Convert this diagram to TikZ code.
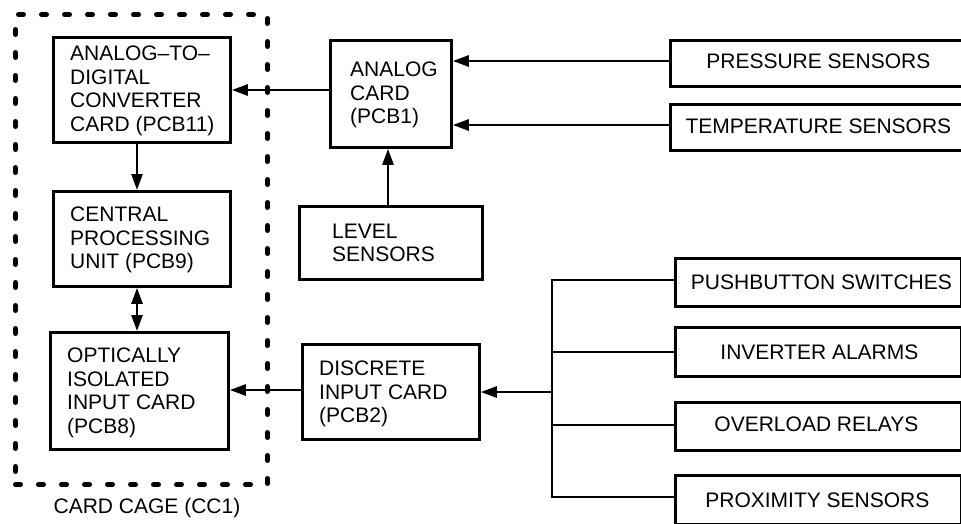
\documentclass[tikz,border=0pt]{standalone}
\usepackage{fontspec}
\setmainfont{Liberation Sans}
\usetikzlibrary{arrows.meta}
\begin{document}
\begin{tikzpicture}[x=1pt,y=-1pt,
  box/.style={draw, line width=2.8pt, inner sep=0pt, anchor=north west},
  txt/.style={inner sep=0pt, align=left, font=\fontsize{21}{23.5}\selectfont},
  wire/.style={line width=2.6pt, line join=miter},
  conn/.style={wire, -{Triangle[length=16pt,width=11pt]}},
  dconn/.style={wire, {Triangle[length=16pt,width=11pt]}-{Triangle[length=16pt,width=11pt]}},
  cagebox/.style={draw, line width=5pt, line cap=round, dash pattern=on 5pt off 18pt, inner sep=0pt, anchor=north west}]
\useasboundingbox (0,0) rectangle (961,523);
\clip (0,0) rectangle (961,523);
% card cage
\node[cagebox, minimum width=252pt, minimum height=470pt] (cage) at (13,12) {};
\node[txt, anchor=center] (cagelbl) at (147,508) {CARD CAGE (CC1)};
% boxes inside cage
\node[box, minimum width=177pt, minimum height=105pt] (adc) at (52,36) {};
\node[txt, anchor=west] (adct) at ([xshift=18pt,yshift=-1pt]adc.west) {ANALOG–TO–\\DIGITAL\\CONVERTER\\CARD (PCB11)};
\node[box, minimum width=177pt, minimum height=95pt] (cpu) at (52,190) {};
\node[txt, anchor=west] (cput) at ([xshift=18pt,yshift=-1pt]cpu.west) {CENTRAL\\PROCESSING\\UNIT (PCB9)};
\node[box, minimum width=178pt, minimum height=117pt] (opt) at (49,331) {};
\node[txt, anchor=west] (optt) at ([xshift=18pt,yshift=-2pt]opt.west) {OPTICALLY\\ISOLATED\\INPUT CARD\\(PCB8)};
% middle column
\node[box, minimum width=121pt, minimum height=107pt] (analog) at (329,39) {};
\node[txt, anchor=west] (analogt) at ([xshift=21pt,yshift=-1pt]analog.west) {ANALOG\\CARD\\(PCB1)};
\node[box, minimum width=183pt, minimum height=73pt] (level) at (298,205) {};
\node[txt, anchor=west] (levelt) at ([xshift=34pt]level.west) {LEVEL\\SENSORS};
\node[box, minimum width=177pt, minimum height=95pt] (disc) at (301,343) {};
\node[txt, anchor=west] (disct) at ([xshift=18pt,yshift=-2pt]disc.west) {DISCRETE\\INPUT CARD\\(PCB2)};
% right column
\node[box, minimum width=296pt, minimum height=46pt] (press) at (669,39) {};
\node[txt] (presst) at ([xshift=0pt,yshift=2pt]press.center) {PRESSURE SENSORS};
\node[box, minimum width=296pt, minimum height=46pt] (temp) at (669,103) {};
\node[txt] (tempt) at ([yshift=1pt]temp.center) {TEMPERATURE SENSORS};
\node[box, minimum width=286pt, minimum height=48pt] (push) at (674,257) {};
\node[txt] (pusht) at ([xshift=3pt]push.center) {PUSHBUTTON SWITCHES};
\node[box, minimum width=286pt, minimum height=49pt] (inv) at (674,326) {};
\node[txt] (invt) at ([xshift=1pt]inv.center) {INVERTER ALARMS};
\node[box, minimum width=286pt, minimum height=48pt] (over) at (674,401) {};
\node[txt] (overt) at ([xshift=-2pt,yshift=2pt]over.center) {OVERLOAD RELAYS};
\node[box, minimum width=286pt, minimum height=49pt] (prox) at (674,474) {};
\node[txt] (proxt) at ([xshift=-1pt]prox.center) {PROXIMITY SENSORS};
% connectors
\coordinate (bus) at (552,280);
\draw[conn] (analog.west |- 0,90) -- (adc.east |- 0,90);
\draw[conn] (press.west |- 0,61) -- (analog.east |- 0,61);
\draw[conn] (temp.west |- 0,125) -- (analog.east |- 0,125);
\draw[conn] (level.north -| 388,0) -- (analog.south -| 388,0);
\draw[conn] (adc.south -| 137,0) -- (cpu.north -| 137,0);
\draw[dconn] (cpu.south -| 137,0) -- (opt.north -| 137,0);
\draw[conn] (disc.west |- 0,390) -- (opt.east |- 0,390);
\draw[wire] (push.west |- 0,280) -- (bus) -- (bus |- 0,497) -- (prox.west |- 0,497);
\draw[wire] (inv.west |- 0,352) -- (bus |- 0,352);
\draw[wire] (over.west |- 0,425) -- (bus |- 0,425);
\draw[conn] (bus |- 0,392) -- (disc.east |- 0,392);
\end{tikzpicture}
\end{document}
